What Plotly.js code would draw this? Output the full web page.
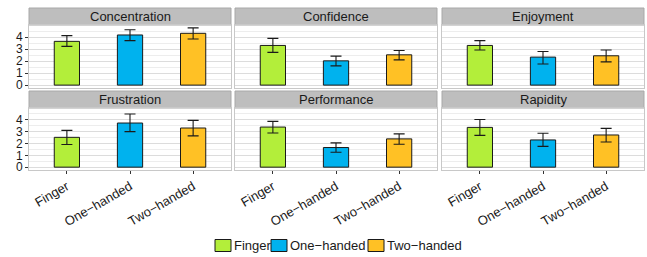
<!DOCTYPE html>
<html><head><meta charset="utf-8">
<script src="https://cdn.plot.ly/plotly-3.0.1.min.js"></script>
<style>body{margin:0;padding:0;background:#fff}#chart{width:647px;height:257px}</style>
</head><body><div id="chart"></div>
<script>
const measures = ["Concentration","Confidence","Enjoyment","Frustration","Performance","Rapidity"];
const conditions = ["Finger","One\u2212handed","Two\u2212handed"];
const colors = ["#B3EE3A","#00B2EE","#FFC125"];
// means per condition, in order of measures
const fingerMean = [3.64, 3.30, 3.30, 2.52, 3.39, 3.36];
const oneMean    = [4.17, 2.02, 2.33, 3.73, 1.66, 2.30];
const twoMean    = [4.31, 2.52, 2.44, 3.31, 2.39, 2.72];
// error bar upper / lower ends
const fingerHi = [4.12, 3.89, 3.70, 3.11, 3.87, 4.03];
const fingerLo = [3.22, 2.72, 2.92, 1.91, 2.89, 2.69];
const oneHi    = [4.60, 2.41, 2.80, 4.49, 2.05, 2.86];
const oneLo    = [3.70, 1.60, 1.76, 3.00, 1.26, 1.76];
const twoHi    = [4.76, 2.88, 2.92, 3.95, 2.81, 3.28];
const twoLo    = [3.84, 2.10, 1.93, 2.64, 1.93, 2.13];
const yTicks = [0,1,2,3,4];

const means = [fingerMean, oneMean, twoMean];
const his = [fingerHi, oneHi, twoHi];
const los = [fingerLo, oneLo, twoLo];

const W = 647, H = 257;
const FONT = "Liberation Sans, Arial, sans-serif";
const colsPx = [[29,231],[235,437],[442,644]];
const rowsPx = [[25,88],[108,170]];
const stripPx = [[8,25],[91,108]];
const legendKeyPx = [[215,231],[271,287],[368,384]];
const legendY = [239.5, 251.5];
const fx = p => p / W;
const fy = p => 1 - p / H;

const traces = [];
const layout = {
  width: W, height: H,
  margin: {l:0,r:0,t:0,b:0},
  paper_bgcolor: "#fff", plot_bgcolor: "#fff",
  barmode: "overlay",
  showlegend: false,
  font: {family: FONT},
  shapes: [], annotations: []
};

measures.forEach((m, i) => {
  const r = Math.floor(i / 3), c = i % 3;
  const ax = i === 0 ? "" : String(i + 1);
  conditions.forEach((cond, k) => {
    traces.push({
      type: "bar", x: [cond], y: [means[k][i]], width: 0.4,
      name: cond, showlegend: false,
      marker: {color: colors[k], line: {color: "#1a1a1a", width: 1}},
      error_y: {type: "data", symmetric: false,
                array: [his[k][i] - means[k][i]], arrayminus: [means[k][i] - los[k][i]],
                color: "#1a1a1a", thickness: 1.1, width: 5.5},
      xaxis: "x" + ax, yaxis: "y" + ax, hoverinfo: "skip"
    });
  });
  layout["xaxis" + ax] = {
    domain: [fx(colsPx[c][0]), fx(colsPx[c][1])],
    anchor: "y" + ax,
    type: "category", categoryorder: "array", categoryarray: conditions,
    range: [-0.6, 2.6], fixedrange: true,
    showgrid: false, zeroline: false,
    showline: true, linecolor: "#c8c8c8", linewidth: 1, mirror: true,
    ticks: r === 1 ? "outside" : "", ticklen: 3, tickcolor: "#333",
    showticklabels: r === 1, tickangle: -30,
    tickfont: {size: 13, color: "#1a1a1a", family: FONT}
  };
  layout["yaxis" + ax] = {
    domain: [fy(rowsPx[r][1]), fy(rowsPx[r][0])],
    anchor: "x" + ax,
    range: [-0.24, 5.0], fixedrange: true,
    tickmode: "array", tickvals: yTicks, ticktext: yTicks.map(String),
    showgrid: true, gridcolor: "#dcdcdc", gridwidth: 1,
    minor: {dtick: 0.5, tick0: 0, showgrid: true, gridcolor: "#ededed", gridwidth: 1},
    zeroline: false,
    showline: true, linecolor: "#c8c8c8", linewidth: 1, mirror: true,
    ticks: c === 0 ? "outside" : "", ticklen: 3, tickcolor: "#333",
    showticklabels: c === 0,
    tickfont: {size: 12, color: "#1a1a1a", family: FONT}
  };
  layout.shapes.push({type: "rect", xref: "paper", yref: "paper",
    x0: fx(colsPx[c][0]), x1: fx(colsPx[c][1]), y0: fy(stripPx[r][1]), y1: fy(stripPx[r][0]),
    fillcolor: "#bebebe", line: {color: "#a8a8a8", width: 1}, layer: "below"});
  layout.annotations.push({xref: "paper", yref: "paper",
    x: fx((colsPx[c][0] + colsPx[c][1]) / 2), y: fy((stripPx[r][0] + stripPx[r][1]) / 2),
    xanchor: "center", yanchor: "middle", text: m, showarrow: false,
    font: {size: 13, color: "#1a1a1a", family: FONT}});
});

// legend (drawn compactly like ggplot's bottom legend)
conditions.forEach((cond, k) => {
  const kp = legendKeyPx[k];
  layout.shapes.push({type: "rect", xref: "paper", yref: "paper",
    x0: fx(kp[0]), x1: fx(kp[1]), y0: fy(legendY[1]), y1: fy(legendY[0]),
    fillcolor: colors[k], line: {color: "#1a1a1a", width: 1}});
  layout.annotations.push({xref: "paper", yref: "paper",
    x: fx(kp[1] + 1), y: fy((legendY[0] + legendY[1]) / 2),
    xanchor: "left", yanchor: "middle", text: cond, showarrow: false,
    font: {size: 13, color: "#1a1a1a", family: FONT}});
});

Plotly.newPlot("chart", traces, layout, {displayModeBar: false, staticPlot: true});
</script></body></html>
